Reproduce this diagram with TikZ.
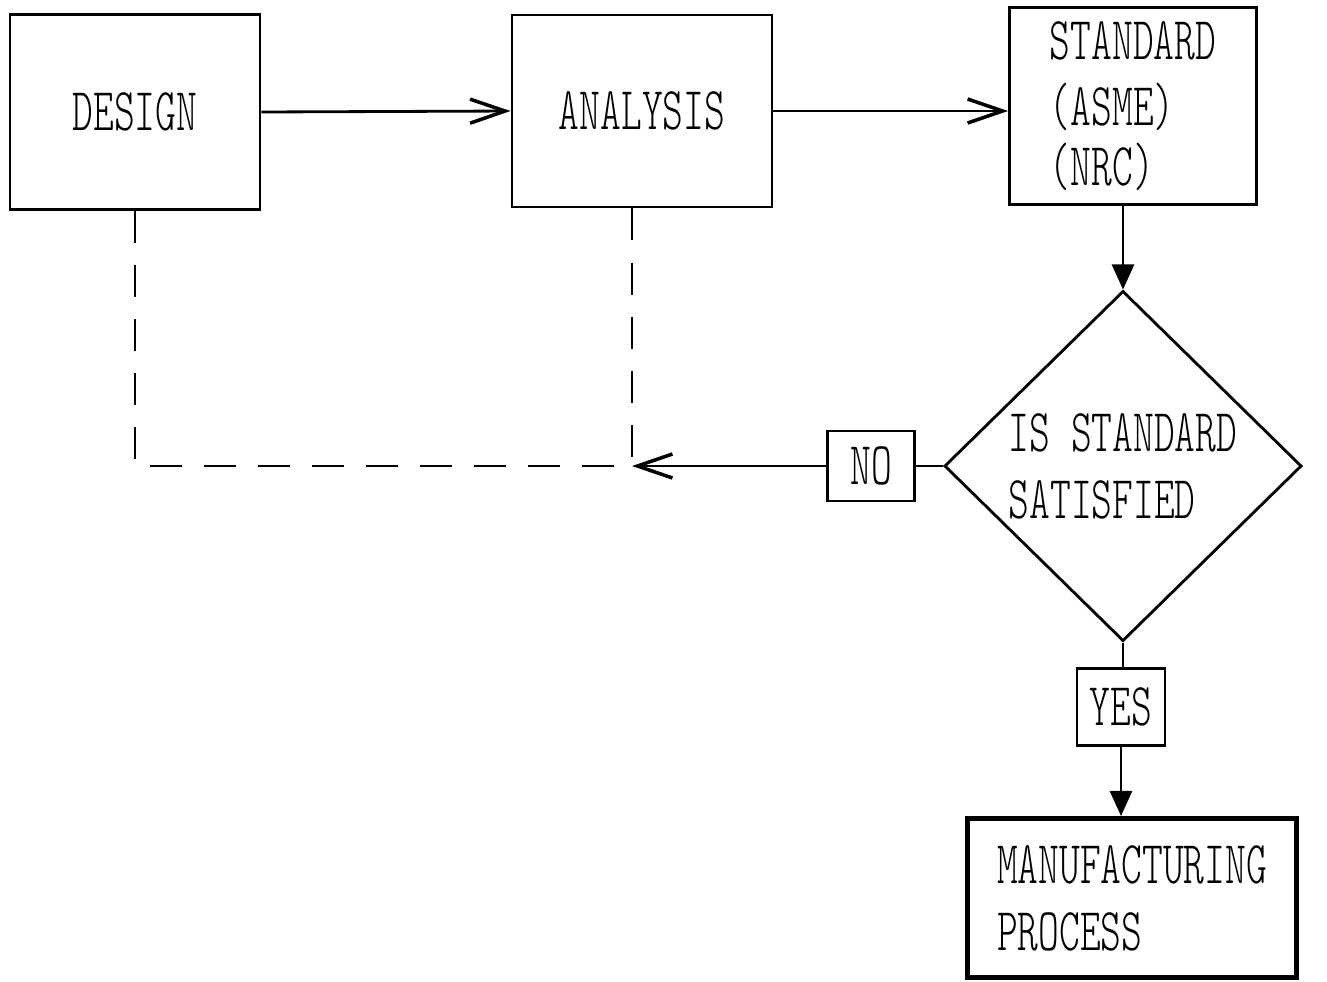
\documentclass[tikz,border=0pt]{standalone}
\usepackage{fontspec}
\usetikzlibrary{arrows.meta,shapes.geometric}
\newfontfamily\diagfont[FakeStretch=0.65]{lmmonolt10-regular.otf}

\begin{document}
\begin{tikzpicture}[x=0.01cm, y=-0.01cm,
    box/.style={draw, line width=0.8pt, inner sep=0pt, align=left,
      font=\diagfont\fontsize{17.3pt}{19pt}\selectfont},
    flow/.style={line width=0.8pt},
    openarrow/.style={flow, -{Straight Barb[length=0.35cm,width=0.24cm,line width=1pt]}},
    filledarrow/.style={flow, -{Triangle[length=0.25cm,width=0.22cm]}},
    feedback/.style={flow, dash pattern=on 0.32cm off 0.22cm}]
    \useasboundingbox (0,0) rectangle (1327,981);

    % Top row
    \node[box, minimum width=2.5cm, minimum height=1.95cm] (design) at (135,112) {DESIGN};
    \node[box, minimum width=2.6cm, minimum height=1.92cm] (analysis) at (642,111) {ANALYSIS};
    \node[box, minimum width=2.47cm, minimum height=1.97cm] (standard) at (1133,106)
      {STANDARD\\(ASME)\\[-2pt](NRC)};

    % Decision
    \node[box, diamond, aspect=1, minimum width=3.57cm, minimum height=3.5cm] (check) at (1123,466)
      {IS STANDARD\\SATISFIED};
    \node[box, minimum width=0.87cm, minimum height=0.7cm] (no) at (871,466) {NO};
    \node[box, minimum width=0.88cm, minimum height=0.77cm] (yes) at (1121,707) {YES};
    \node[box, line width=1.4pt, minimum width=3.29cm, minimum height=1.59cm] (mfg) at (1132,898)
      {MANUFACTURING\\PROCESS};

    % Connectors
    \draw[openarrow] (design.east) -- (analysis.west);
    \draw[openarrow] (analysis.east) -- (analysis.east -| standard.west);
    \draw[filledarrow] (standard.south -| check.north) -- (check.north);
    \draw[flow] (check.west) -- (no.east);
    \coordinate (merge) at (632,466);
    \draw[openarrow] (no.west) -- (merge);
    \draw[flow] (check.south) -- (check.south |- yes.north);
    \draw[filledarrow] (yes.south) -- (yes.south |- mfg.north);

    % Feedback paths
    \draw[feedback] (design.south) |- (merge);
    \draw[feedback] (analysis.south -| merge) -- (merge);
\end{tikzpicture}
\end{document}
